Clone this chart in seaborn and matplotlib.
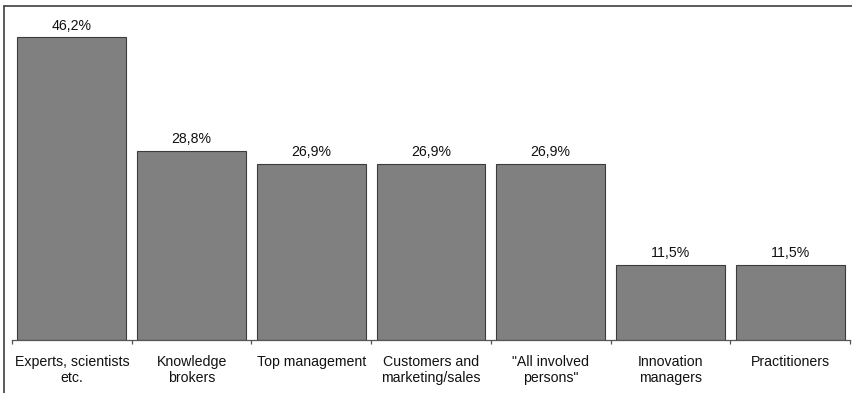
import matplotlib
matplotlib.use("Agg")
import matplotlib.pyplot as plt
import seaborn as sns
import pandas as pd
from matplotlib.lines import Line2D

categories = ["Experts, scientists\netc.", "Knowledge\nbrokers", "Top management",
              "Customers and\nmarketing/sales", "\"All involved\npersons\"",
              "Innovation\nmanagers", "Practitioners"]
values = [46.2, 28.8, 26.9, 26.9, 26.9, 11.5, 11.5]
labels = ["46,2%", "28,8%", "26,9%", "26,9%", "26,9%", "11,5%", "11,5%"]

sns.set_theme(style="white")
plt.rcParams['font.family'] = ['Liberation Sans', 'DejaVu Sans']

df = pd.DataFrame({"cat": categories, "val": values})
fig = plt.figure(figsize=(8.52, 3.93), dpi=100)
ax = fig.add_axes([12/852, 1-340/393, 838/852, 334/393])
sns.barplot(data=df, x="cat", y="val", color="#808080", saturation=1,
            width=0.91, edgecolor="#3c3c3c", linewidth=0.8, ax=ax)
ax.set_xlim(-0.5, 6.5)
ax.set_ylim(0, 51)
for i, (v, t) in enumerate(zip(values, labels)):
    ax.text(i, v + 0.75, t, ha="center", va="bottom", fontsize=10.2, color="#111111")
for s in ["top", "right", "left"]:
    ax.spines[s].set_visible(False)
ax.spines["bottom"].set_color("#555555")
ax.spines["bottom"].set_linewidth(0.9)
ax.set_yticks([])
ax.set_xlabel("")
ax.set_ylabel("")
ax.set_xticks(range(7))
ax.set_xticklabels(categories, fontsize=10.2, color="#111111", linespacing=1.2)
ax.set_xticks([i - 0.5 for i in range(8)], minor=True)
ax.tick_params(axis="x", which="major", length=0, pad=11)
ax.tick_params(axis="x", which="minor", length=3, width=0.9, color="#555555", direction="out", bottom=True)

fig.add_artist(Line2D([4/852, 4/852], [0, 1-6/393], transform=fig.transFigure, color="#404040", lw=1.2))
fig.add_artist(Line2D([4/852, 1], [1-6/393, 1-6/393], transform=fig.transFigure, color="#404040", lw=1.2))

fig.savefig("out.png", dpi=100)
